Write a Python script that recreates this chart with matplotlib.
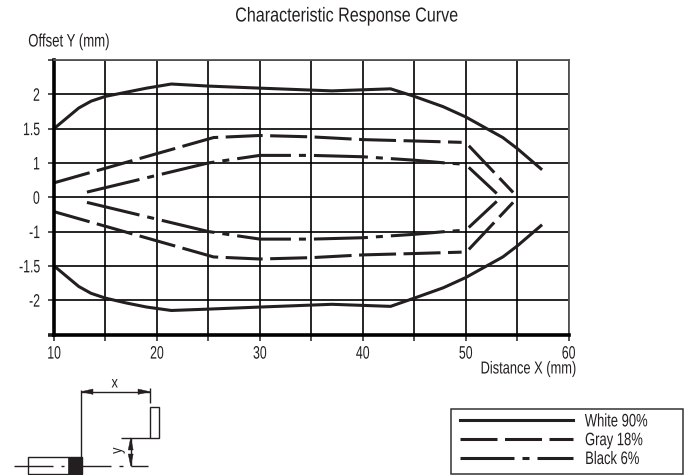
import numpy as np
import matplotlib
matplotlib.use('Agg')
import matplotlib.pyplot as plt
from matplotlib.patches import Rectangle, Polygon
from matplotlib.patheffects import AbstractPathEffect
from matplotlib.transforms import Affine2D

plt.rcParams['font.family'] = ['Liberation Sans', 'DejaVu Sans']
plt.rcParams['lines.scale_dashes'] = False

# values
white_x = [10, 12.4, 13.6, 15, 17, 19, 21.4, 25, 30, 37, 42.7, 45, 47.8, 50, 53.6, 55, 57.3]
white_up = [1.5, 1.8, 1.9, 1.97, 2.03, 2.09, 2.15, 2.12, 2.09, 2.05, 2.08, 1.97, 1.82, 1.67, 1.37, 1.21, 0.83]
white_low = [-1.5, -1.8, -1.9, -1.97, -2.04, -2.1, -2.15, -2.13, -2.1, -2.06, -2.09, -1.97, -1.82, -1.67, -1.37, -1.21, -0.83]

gray_x = [10, 25.5, 30, 35, 40, 45, 49.6]
gray_up = [0.42, 1.37, 1.4, 1.38, 1.34, 1.32, 1.3]
gray_low = [-0.42, -1.37, -1.4, -1.38, -1.34, -1.32, -1.3]
gray_tip_x = [50.3, 54.6]
gray_tip_up = [1.25, 0.14]
gray_tip_low = [-1.26, -0.15]

black_x = [13.2, 25, 30, 35, 40, 45, 48, 50]
black_up = [0.15, 1.0, 1.11, 1.11, 1.09, 1.04, 1.0, 0.96]
black_low = [-0.15, -1.0, -1.11, -1.11, -1.09, -1.04, -1.0, -0.96]
black_tip_x = [50.4, 52.9]
black_tip_up = [0.84, 0.14]
black_tip_low = [-0.85, -0.15]

x_ticks = [10, 15, 20, 25, 30, 35, 40, 45, 50, 55, 60]
x_labels = ['10', '', '20', '', '30', '', '40', '', '50', '', '60']
y_ticks = [-2.5, -2, -1.5, -1, 0, 1, 1.5, 2, 2.5]
y_labels = ['', '-2', '-1.5', '-1', '0', '1', '1.5', '2', '']
y_even = [-4, -3, -2, -1, 0, 1, 2, 3, 4]

ink = '#231f20'
W, H = 690, 475
px = 0.72
gray_dash = (37 * px, 7.5 * px)
black_dash = (54 * px, 8 * px, 7 * px, 8 * px)


class Squeeze(AbstractPathEffect):
    # no condensed font is installed, so narrow the glyphs sideways
    def __init__(self, sx=0.72, anchor=0.5):
        super().__init__()
        self.sx = sx
        self.anchor = anchor

    def draw_path(self, renderer, gc, tpath, affine, rgbFace=None):
        b = tpath.get_extents()
        x0 = b.x0 + self.anchor * b.width
        squeeze = Affine2D().translate(-x0, 0).scale(self.sx, 1).translate(x0, 0)
        renderer.draw_path(gc, tpath, squeeze + affine, rgbFace)


fig = plt.figure(figsize=(W / 100, H / 100), dpi=100)
L, R, T, B = 54, 568.7, 60, 334.5
ax = fig.add_axes([L / W, 1 - B / H, (R - L) / W, (B - T) / H])

# the y axis is evenly spaced but its labels are not
ax.set_yscale('function', functions=(lambda v: np.interp(v, y_ticks, y_even),
                                     lambda p: np.interp(p, y_even, y_ticks)))
ax.set_xlim(10, 60)
ax.set_ylim(-2.5, 2.5)
ax.set_xticks(x_ticks, x_labels)
ax.set_yticks(y_ticks, y_labels)
ax.minorticks_off()
ax.grid(True, color='black', lw=1.2)
ax.set_axisbelow(True)

ax.tick_params(axis='x', length=4.5, width=1.1, pad=3.5, labelsize=13, colors=ink)
ax.tick_params(axis='y', length=4.5, width=1.1, pad=5.5, labelsize=13, colors=ink)
for label in ax.get_xticklabels():
    label.set_path_effects([Squeeze(0.68, 0.5)])
for label in ax.get_yticklabels():
    label.set_path_effects([Squeeze(0.68, 1.0)])
ax.yaxis.get_major_ticks()[0].tick1line.set_markeredgewidth(2.6)
for side in ['top', 'right']:
    ax.spines[side].set_color('#555555')
    ax.spines[side].set_linewidth(1.3)
for side in ['left', 'bottom']:
    ax.spines[side].set_color('black')
    ax.spines[side].set_linewidth(2.6)

lw = 2.2
ax.plot(white_x, white_up, color=ink, lw=lw, label='White 90%')
ax.plot(white_x, white_low, color=ink, lw=lw)
ax.plot(gray_x, gray_up, color=ink, lw=lw, dashes=gray_dash, label='Gray 18%')
ax.plot(gray_x, gray_low, color=ink, lw=lw, dashes=gray_dash)
ax.plot(gray_tip_x, gray_tip_up, color=ink, lw=lw, dashes=gray_dash)
ax.plot(gray_tip_x, gray_tip_low, color=ink, lw=lw, dashes=gray_dash)
ax.plot(black_x, black_up, color=ink, lw=lw, dashes=black_dash, label='Black 6%')
ax.plot(black_x, black_low, color=ink, lw=lw, dashes=black_dash)
ax.plot(black_tip_x, black_tip_up, color=ink, lw=lw)
ax.plot(black_tip_x, black_tip_low, color=ink, lw=lw)

leg = ax.legend(loc='lower left', bbox_to_anchor=(460 / W, 1 - 468 / H), bbox_transform=fig.transFigure,
                fontsize=13, handlelength=6.26, handletextpad=0.65, labelspacing=0.1,
                borderpad=0, borderaxespad=0, frameon=False, labelcolor=ink)
for label in leg.get_texts():
    label.set_path_effects([Squeeze(0.72, 0.0)])

# overlay in pixels for the texts and the sensor sketch
over = fig.add_axes([0, 0, 1, 1])
over.set_xlim(0, W)
over.set_ylim(H, 0)
over.axis('off')
over.patch.set_alpha(0)

# legend box
over.add_patch(Rectangle((450.5, 409), 232.5, 65, fc='none', ec='#333333', lw=1.1))

over.text(347, 16, 'Characteristic Response Curve', ha='center', va='center', fontsize=14.5,
          color=ink, path_effects=[Squeeze(0.8, 0.5)])
over.text(28, 42, 'Offset Y (mm)', ha='left', va='center', fontsize=13, color=ink,
          path_effects=[Squeeze(0.73, 0.0)])
over.text(577, 369, 'Distance X (mm)', ha='right', va='center', fontsize=12.5, color=ink,
          path_effects=[Squeeze(0.74, 1.0)])


def seg(xs, ys, width=1.0):
    over.plot(xs, ys, color=ink, lw=width, solid_capstyle='butt')


# sensor sketch
over.add_patch(Rectangle((28.3, 456.7), 53.4, 17.6, fc='white', ec=ink, lw=1.0))
over.add_patch(Rectangle((68.3, 456.7), 13.4, 17.6, fc=ink, ec=ink, lw=0.5))
over.add_patch(Rectangle((149.7, 407.3), 9.3, 30.4, fc='white', ec=ink, lw=1.0))
seg([81, 81], [390, 456.7])
seg([81, 150], [391.7, 391.7])
seg([150, 150], [388, 403])
seg([121, 150], [437.7, 437.7])
seg([130.7, 130.7], [437.7, 466])
seg([14, 52.7], [466, 466])
seg([61, 64], [466, 466])
seg([81.7, 111], [466, 466])
seg([119, 123], [466, 466])
seg([130.7, 148], [466, 466])
over.add_patch(Polygon([(81, 391.7), (93, 389), (93, 394.4)], fc=ink, ec=ink, lw=0.3))
over.add_patch(Polygon([(150, 391.7), (138, 389), (138, 394.4)], fc=ink, ec=ink, lw=0.3))
over.add_patch(Polygon([(130.7, 437.7), (128.2, 450), (133.2, 450)], fc=ink, ec=ink, lw=0.3))
over.add_patch(Polygon([(130.7, 466), (128.2, 454), (133.2, 454)], fc=ink, ec=ink, lw=0.3))
over.text(114.7, 383, 'x', ha='center', va='center', fontsize=11.5, color=ink,
          path_effects=[Squeeze(0.8, 0.5)])
over.text(117, 450.7, 'y', ha='center', va='center', fontsize=11.5, color=ink, rotation=90,
          path_effects=[Squeeze(0.8, 0.5)])

fig.savefig('out.png', dpi=100)
